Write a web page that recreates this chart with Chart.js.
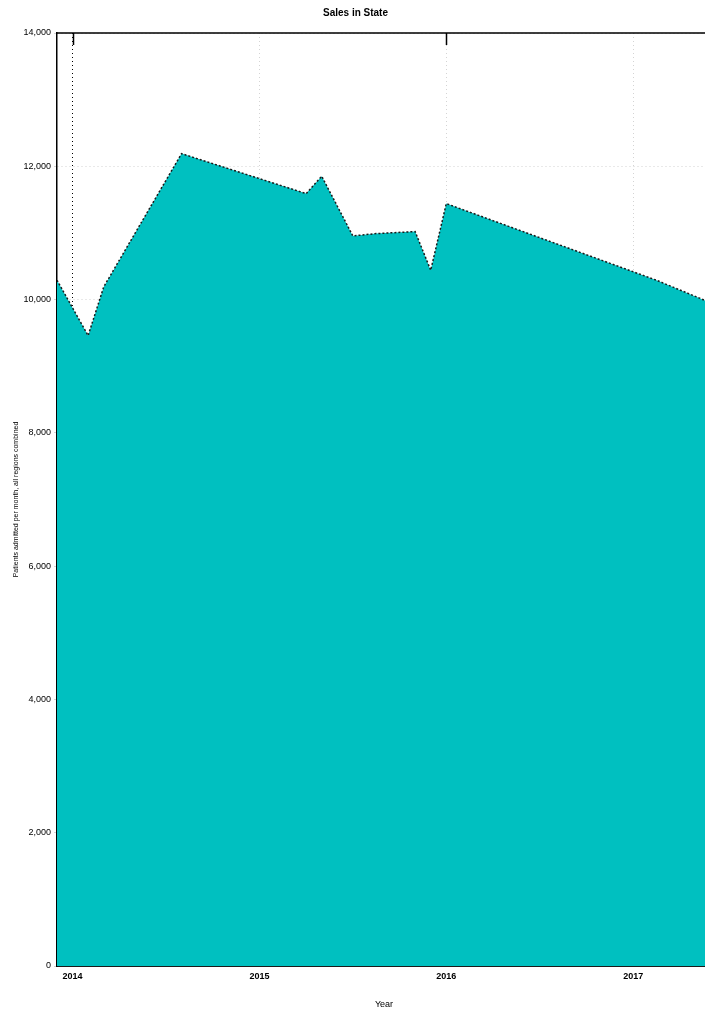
<!DOCTYPE html>
<html>
<head>
<meta charset="utf-8">
<script src="https://cdn.jsdelivr.net/npm/chart.js@4/dist/chart.umd.min.js"></script>
<style>
  html, body { margin: 0; padding: 0; background: #fff; overflow: hidden; }
  #wrap { width: 714px; height: 1010px; }
</style>
</head>
<body>
<div id="wrap"><canvas id="areaChart" width="714" height="1010"></canvas></div>
<script>
// months counted from Jan 2014 (0)
const MONTHS = [-1, 1, 2, 7, 15, 16, 18, 19.5, 22, 23, 24, 37.5, 41];
const VALUES = [10290, 9460, 10190, 12190, 11590, 11850, 10955, 10990, 11020, 10440, 11440, 10290, 9950];
const YEAR_TICKS = [0, 12, 24, 36];
const YEAR_LABELS = ['2014', '2015', '2016', '2017'];
const MAJOR_TICKS = [0, 24];

const COLORS = {
  fill: '#00c0c0',
  line: '#1a1a1a',
  grid: 'rgba(170,170,170,0.5)',
  text: '#000',
};

const FONT = "'Liberation Sans', Arial, sans-serif";

// top border + inward tick marks at the major ticks
const frame = {
  id: 'frame',
  afterDraw(chart) {
    const { ctx, chartArea } = chart;
    const x = chart.scales.x;
    ctx.save();
    ctx.strokeStyle = '#000';
    ctx.lineWidth = 1.5;
    ctx.beginPath();
    ctx.moveTo(chartArea.left, chartArea.top);
    ctx.lineTo(chartArea.right, chartArea.top);
    MAJOR_TICKS.forEach(v => {
      const px = Math.round(x.getPixelForValue(v)) + 0.5;
      ctx.moveTo(px, chartArea.top);
      ctx.lineTo(px, chartArea.top + 12);
    });
    ctx.stroke();
    ctx.restore();
  },
};

new Chart(document.getElementById('areaChart'), {
  type: 'line',
  data: {
    datasets: [{
      data: MONTHS.map((m, i) => ({ x: m, y: VALUES[i] })),
      borderColor: COLORS.line,
      borderWidth: 1.5,
      borderDash: [2, 2],
      backgroundColor: COLORS.fill,
      fill: 'origin',
      pointRadius: 0,
      tension: 0,
    }],
  },
  options: {
    responsive: false,
    animation: false,
    layout: { padding: { left: 0, right: 3, top: 0, bottom: 0 } },
    plugins: {
      legend: { display: false },
      tooltip: { enabled: false },
      title: {
        display: true,
        text: 'Sales in State',
        color: COLORS.text,
        font: { family: FONT, size: 10, weight: 'bold' },
        padding: { top: 7, bottom: 14 },
      },
    },
    scales: {
      x: {
        type: 'linear',
        min: -1, max: 41,
        afterBuildTicks: s => { s.ticks = YEAR_TICKS.map(v => ({ value: v })); },
        afterFit: s => { s.height = 44; },
        grid: {
          color: c => (c.tick && c.tick.value === 0 ? '#000' : COLORS.grid),
          lineWidth: 1,
          tickLength: 0,
        },
        border: { display: true, color: '#1a1a1a', width: 2, dash: [1, 3] },
        ticks: {
          color: COLORS.text,
          font: { family: FONT, size: 9, weight: 'bold' },
          padding: 5,
          maxRotation: 0,
          callback: v => YEAR_LABELS[YEAR_TICKS.indexOf(v)] || '',
        },
        title: {
          display: true,
          text: 'Year',
          color: COLORS.text,
          font: { family: FONT, size: 9 },
          padding: { top: 2, bottom: 0 },
        },
      },
      y: {
        min: 0, max: 14000,
        afterFit: s => { s.width = 57; },
        grid: { color: COLORS.grid, lineWidth: 1, tickLength: 3 },
        border: { display: true, color: '#000', width: 1.5, dash: [1, 3] },
        ticks: {
          stepSize: 2000,
          color: COLORS.text,
          font: { family: FONT, size: 9 },
          padding: 3,
          callback: v => v.toLocaleString('en-US'),
        },
        title: {
          display: true,
          text: 'Patients admitted per month, all regions combined',
          color: COLORS.text,
          font: { family: FONT, size: 7 },
          padding: { top: 12, bottom: 2 },
        },
      },
    },
  },
  plugins: [frame],
});
</script>
</body>
</html>
